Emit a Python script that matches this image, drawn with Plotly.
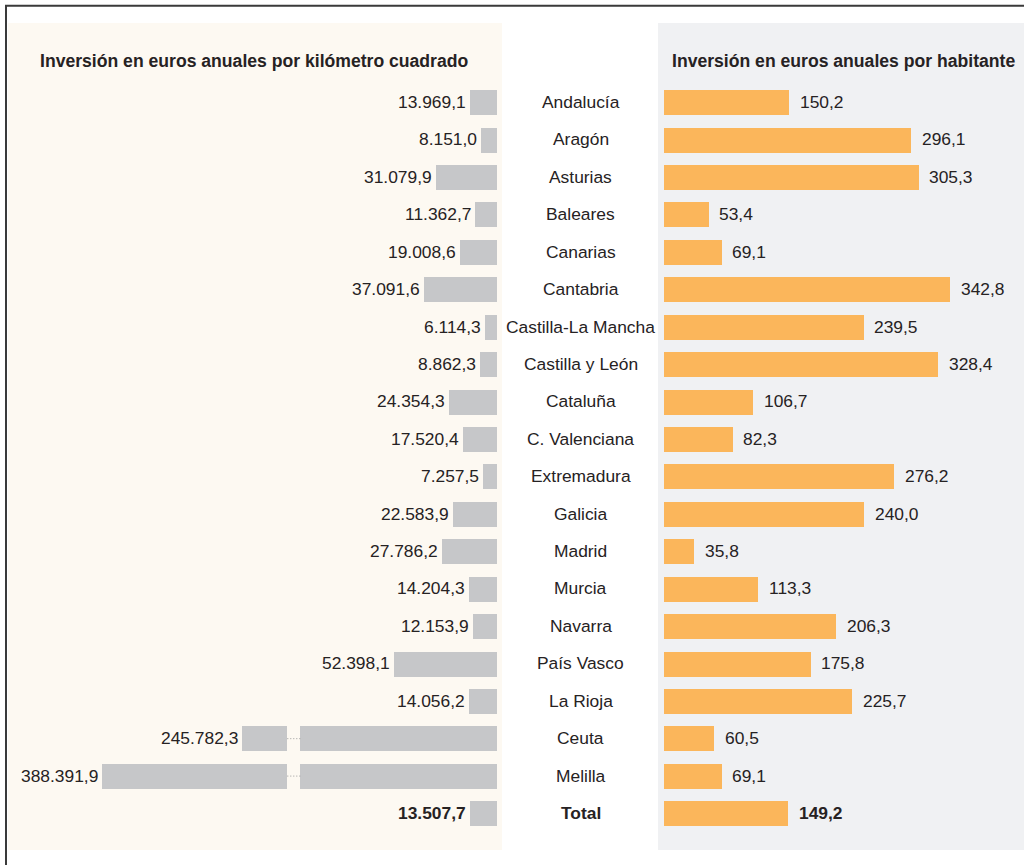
import plotly.graph_objects as go

# Regional investment figures
regions = [
    "Andalucía", "Aragón", "Asturias", "Baleares", "Canarias", "Cantabria",
    "Castilla-La Mancha", "Castilla y León", "Cataluña", "C. Valenciana",
    "Extremadura", "Galicia", "Madrid", "Murcia", "Navarra", "País Vasco",
    "La Rioja", "Ceuta", "Melilla", "Total",
]
per_km2 = [
    13969.1, 8151.0, 31079.9, 11362.7, 19008.6, 37091.6, 6114.3, 8862.3,
    24354.3, 17520.4, 7257.5, 22583.9, 27786.2, 14204.3, 12153.9, 52398.1,
    14056.2, 245782.3, 388391.9, 13507.7,
]
per_inhabitant = [
    150.2, 296.1, 305.3, 53.4, 69.1, 342.8, 239.5, 328.4, 106.7, 82.3,
    276.2, 240.0, 35.8, 113.3, 206.3, 175.8, 225.7, 60.5, 69.1, 149.2,
]
title_left = "Inversión en euros anuales por kilómetro cuadrado"
title_right = "Inversión en euros anuales por habitante"

# Broken left axis: values above CAP continue on a compressed segment from RESUME
CAP = 100000
RESUME = 200000

W, H = 1024, 865
FONT = "Liberation Sans, Arial, sans-serif"
TXT = "#262223"
GREY_BAR = "#C6C7C9"
ORANGE = "#FBB65B"
CREAM = "#FDF9F2"
PANEL_GREY = "#F0F1F3"
FS = 17.4
FS_TITLE = 17.6


def fx(p):
    return p / W


def fy(p):
    return 1 - p / H


def fmt_es(v, thousands=True):
    s = f"{v:,.1f}" if thousands else f"{v:.1f}"
    return s.replace(",", "#").replace(".", ",").replace("#", ".")


# pixel scales of the axes
S_LEFT = 0.001967          # px per euro/km2 on the main segment
S_OVER = S_LEFT / 2        # compressed overflow segment
S_RIGHT = 0.834            # px per euro/inhabitant
LEFT_ZERO, BREAK_PX, PANEL_L = 497, 287, 8
RIGHT_ZERO = 663.7

idx = list(range(len(regions)))
is_total = [r == "Total" for r in regions]

fig = go.Figure()

# main left segment
fig.add_trace(go.Bar(
    y=idx, x=[min(v, CAP) for v in per_km2], orientation="h",
    marker=dict(color=GREY_BAR, line=dict(width=0)), width=0.668,
    xaxis="x", yaxis="y", hoverinfo="skip", showlegend=False,
))
# overflow segment beyond the break
over_i = [i for i, v in zip(idx, per_km2) if v > CAP]
fig.add_trace(go.Bar(
    y=over_i, x=[per_km2[i] - RESUME for i in over_i],
    base=[RESUME] * len(over_i), orientation="h",
    marker=dict(color=GREY_BAR, line=dict(width=0)), width=0.668,
    xaxis="x2", yaxis="y", hoverinfo="skip", showlegend=False,
))
# right bars
fig.add_trace(go.Bar(
    y=idx, x=per_inhabitant, orientation="h",
    marker=dict(color=ORANGE, line=dict(width=0)), width=0.668,
    xaxis="x3", yaxis="y", hoverinfo="skip", showlegend=False,
))

annotations = []
for i, (reg, v1, v2, tot) in enumerate(zip(regions, per_km2, per_inhabitant, is_total)):
    weight = "bold" if tot else "normal"
    fnt = dict(family=FONT, size=FS, color=TXT, weight=weight)
    # left value label
    annotations.append(dict(
        x=v1, xref="x2" if v1 > CAP else "x", y=i, yref="y",
        text=fmt_es(v1), showarrow=False, xanchor="right", yanchor="middle",
        xshift=-2, yshift=0.5, font=fnt,
    ))
    # region name
    annotations.append(dict(
        x=fx(580.5), xref="paper", y=i, yref="y", text=reg, showarrow=False,
        xanchor="center", yanchor="middle", yshift=0.5, font=fnt,
    ))
    # right value label
    annotations.append(dict(
        x=v2, xref="x3", y=i, yref="y", text=fmt_es(v2, thousands=False),
        showarrow=False, xanchor="left", yanchor="middle", xshift=9,
        yshift=0.5, font=fnt,
    ))

annotations.append(dict(
    x=fx(253.8), xref="paper", y=fy(61), yref="paper", text=title_left,
    showarrow=False, xanchor="center", yanchor="middle",
    font=dict(family=FONT, size=FS_TITLE, color=TXT, weight="bold"),
))
annotations.append(dict(
    x=fx(843), xref="paper", y=fy(61), yref="paper", text=title_right,
    showarrow=False, xanchor="center", yanchor="middle",
    font=dict(family=FONT, size=FS_TITLE, color=TXT, weight="bold"),
))

main_end = (LEFT_ZERO - BREAK_PX) / S_LEFT
shapes = [
    dict(type="rect", xref="paper", yref="paper", x0=fx(8), x1=fx(502),
         y0=fy(850), y1=fy(23), fillcolor=CREAM, line=dict(width=0), layer="below"),
    dict(type="rect", xref="paper", yref="paper", x0=fx(658), x1=1,
         y0=fy(850), y1=fy(23), fillcolor=PANEL_GREY, line=dict(width=0), layer="below"),
    dict(type="path", xref="paper", yref="paper",
         path=f"M {fx(6)},0 L {fx(6)},{fy(5.8)} L 1,{fy(5.8)}",
         line=dict(color="#3a3a3a", width=2)),
]
# dotted connectors across the axis break
for i in over_i:
    shapes.append(dict(
        type="line", xref="x", yref="y", x0=CAP, x1=main_end, y0=i, y1=i,
        line=dict(color="#9a9a9a", width=1, dash="1px,2px"),
    ))

hidden = dict(showticklabels=False, showgrid=False, zeroline=False,
              showline=False, ticks="", fixedrange=True)
row_h = 37.42
y_top = 102.5 - row_h / 2
y_bot = 813.5 + row_h / 2

fig.update_layout(
    width=W, height=H, margin=dict(l=0, r=0, t=0, b=0),
    paper_bgcolor="white", plot_bgcolor="rgba(0,0,0,0)",
    bargap=0, barmode="overlay",
    xaxis=dict(domain=[fx(BREAK_PX), fx(LEFT_ZERO)], range=[main_end, 0],
               anchor="y", **hidden),
    xaxis2=dict(domain=[fx(PANEL_L), fx(BREAK_PX)],
                range=[RESUME + (BREAK_PX - PANEL_L) / S_OVER, RESUME],
                anchor="y", **hidden),
    xaxis3=dict(domain=[fx(RIGHT_ZERO), 1],
                range=[0, (W - RIGHT_ZERO) / S_RIGHT], anchor="y", **hidden),
    yaxis=dict(domain=[fy(y_bot), fy(y_top)], range=[len(regions) - 0.5, -0.5],
               type="linear", **hidden),
    annotations=annotations, shapes=shapes,
    font=dict(family=FONT, color=TXT),
)

fig.write_html("out.html")
